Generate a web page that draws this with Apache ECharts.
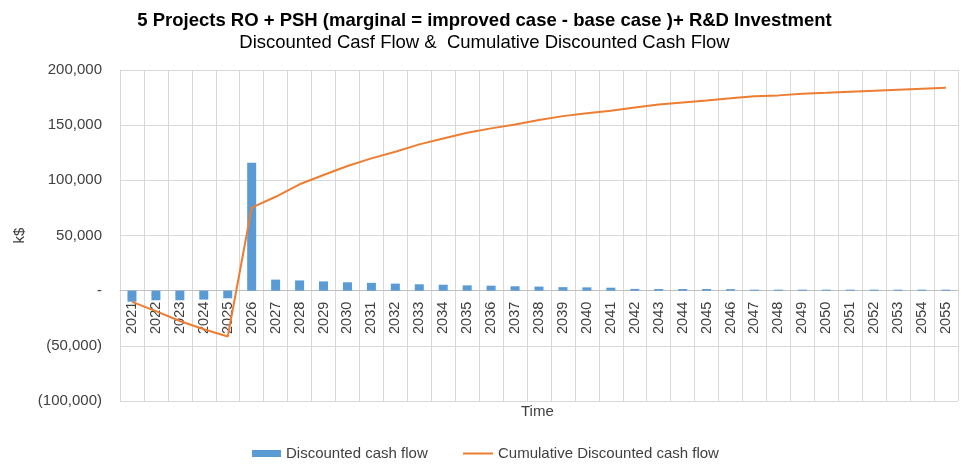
<!DOCTYPE html>
<html>
<head>
<meta charset="utf-8">
<script src="https://cdn.jsdelivr.net/npm/echarts@6/dist/echarts.min.js"></script>
<style>
html,body{margin:0;padding:0;background:#fff;}
#chart{width:969px;height:475px;}
</style>
</head>
<body>
<div id="chart"></div>
<script>
var years = ['2021','2022','2023','2024','2025','2026','2027','2028','2029','2030','2031','2032','2033','2034','2035','2036','2037','2038','2039','2040','2041','2042','2043','2044','2045','2046','2047','2048','2049','2050','2051','2052','2053','2054','2055'];
var discountedCashFlow = [-10000,-8700,-8700,-8100,-6900,116000,10000,9300,8400,7600,7100,6400,5800,5400,4800,4500,4000,3700,3200,3000,2700,1600,1500,1500,1500,1400,900,900,900,900,900,900,900,900,900];
var cumulativeCashFlow = [-10200,-18500,-27500,-35000,-41500,75200,85100,96400,104800,113000,119900,125900,132600,138000,143100,147100,150700,154600,158200,160700,163100,166100,168800,170600,172400,174300,176300,177000,178400,179300,180300,181200,182100,183000,183900];
var yTicks = {min:-100000, max:200000, interval:50000};
var titleMain = '5 Projects RO + PSH (marginal = improved case - base case )+ R&D Investment';
var titleSub = 'Discounted Casf Flow &  Cumulative Discounted Cash Flow';

function fmt(v){
  if (v === 0) return '-';
  var s = Math.abs(v).toString().replace(/\B(?=(\d{3})+(?!\d))/g, ',');
  return v < 0 ? '(' + s + ')' : s;
}
var FONT = '"Liberation Sans", Arial, sans-serif';
var chart = echarts.init(document.getElementById('chart'));
chart.setOption({
  animation: false,
  textStyle: {fontFamily: FONT},
  title: [
    {text: titleMain, left: 'center', top: 6, textStyle: {fontFamily: FONT, fontSize: 18.5, fontWeight: 'bold', color: '#000'}},
    {text: titleSub, left: 'center', top: 28, textStyle: {fontFamily: FONT, fontSize: 18.5, fontWeight: 'normal', color: '#000'}}
  ],
  grid: {left: 120, right: 11, top: 70, bottom: 74},
  legend: [
    {
      left: 252, top: 446, padding: 0, itemWidth: 29, itemHeight: 7, itemGap: 4,
      textStyle: {fontFamily: FONT, fontSize: 15, color: '#404040'},
      data: [{name: 'Discounted cash flow', icon: 'rect'}]
    },
    {
      left: 463, top: 446, padding: 0, itemWidth: 30, itemHeight: 2,
      textStyle: {fontFamily: FONT, fontSize: 15, color: '#404040'},
      data: [{name: 'Cumulative Discounted cash flow', icon: 'rect'}]
    }
  ],
  graphic: [
    {type: 'text', left: 521, top: 404, style: {text: 'Time', font: '15px ' + FONT, fill: '#404040'}}
  ],
  xAxis: {
    type: 'category', data: years, boundaryGap: true,
    offset: -110.3,
    axisLine: {onZero: false, lineStyle: {color: '#BFBFBF', width: 1}},
    axisTick: {show: false},
    axisLabel: {rotate: 90, fontSize: 14.5, color: '#404040', margin: 11, interval: 0, fontFamily: FONT},
    splitLine: {show: true, interval: 0, lineStyle: {color: '#D9D9D9', width: 1}}
  },
  yAxis: {
    type: 'value', min: yTicks.min, max: yTicks.max, interval: yTicks.interval,
    name: 'k$', nameLocation: 'middle', nameGap: 84, nameRotate: 90,
    nameTextStyle: {fontSize: 15, color: '#404040', fontFamily: FONT},
    axisLine: {show: true, lineStyle: {color: '#D9D9D9'}},
    axisTick: {show: false},
    axisLabel: {formatter: fmt, fontSize: 15, color: '#404040', margin: 18, fontFamily: FONT},
    splitLine: {show: true, lineStyle: {color: '#D9D9D9', width: 1}}
  },
  series: [
    {name: 'Discounted cash flow', type: 'bar', data: discountedCashFlow, barWidth: 9, itemStyle: {color: '#5B9BD5'}},
    {name: 'Cumulative Discounted cash flow', type: 'line', data: cumulativeCashFlow, symbol: 'none', lineStyle: {color: '#ED7D31', width: 2}, itemStyle: {color: '#ED7D31'}}
  ]
});
</script>
</body>
</html>
